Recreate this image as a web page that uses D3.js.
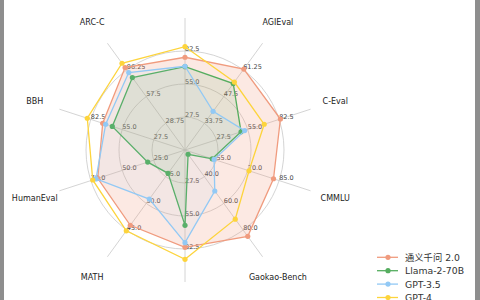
<!DOCTYPE html>
<html>
<head>
<meta charset="utf-8">
<script src="https://cdn.jsdelivr.net/npm/d3@7/dist/d3.min.js"></script>
<style>
html,body{margin:0;padding:0;background:#fff;}
svg{display:block;}
text{font-family:"DejaVu Sans","Noto Sans CJK SC",sans-serif;}
</style>
</head>
<body>
<svg id="chart" width="480" height="300"></svg>
<script>
const axesNames = ["MMLU","AGIEval","C-Eval","CMMLU","Gaokao-Bench","GSM8K","MATH","HumanEval","BBH","ARC-C"];
const axisMin = [0,20,0,40,20,0,0,0,0,0];
const axisMax = [110,75,110,100,100,110,60,100,110,115];
const axisTicks = [
  ["27.5","55.0","82.5"],
  ["33.75","47.5","61.25"],
  ["27.5","55.0","82.5"],
  ["55.0","70.0","85.0"],
  ["40.0","60.0","80.0"],
  ["27.5","55.0","82.5"],
  ["15.0","30.0","45.0"],
  ["25.0","50.0","75.0"],
  ["27.5","55.0","82.5"],
  ["28.75","57.5","86.25"]
];
const seriesNames = ["通义千问 2.0","Llama-2-70B","GPT-3.5","GPT-4"];
const qwen  = [77.3, 61.7, 83.6, 82.3, 84.7, 81.1, 42.3, 69.5, 72.1, 88.8];
const llama = [69.4, 54.2, 49.1, 53.0, 23.2, 62.8, 13.1, 29.7, 63.7, 78.0];
const gpt35 = [69.8, 39.9, 52.3, 53.9, 50.7, 77.2, 27.6, 70.9, 69.5, 83.4];
const gpt4  = [86.1, 55.0, 69.4, 70.6, 71.8, 91.1, 45.4, 73.5, 85.6, 93.4];

const seriesData = [qwen, llama, gpt35, gpt4];
const colors = ["#f09b7e","#55ad5f","#92c9f5","#fdd43c"];
const fillOp = [0.22, 0.12, 0.08, 0.0];

const svg = d3.select("#chart");
svg.append("rect").attr("width",480).attr("height",300).attr("fill","#ffffff");
svg.append("rect").attr("x",0).attr("y",0).attr("width",4).attr("height",300).attr("fill","#8e8e8e");
svg.append("rect").attr("x",475).attr("y",0).attr("width",5).attr("height",300).attr("fill","#8e8e8e");

const cx = 185, cy = 150, R = 132;
const n = axesNames.length;
const angle = i => i * 2 * Math.PI / n;
const scales = axesNames.map((_, i) => d3.scaleLinear().domain([axisMin[i], axisMax[i]]).range([0, R]));
const g = svg.append("g").attr("transform", `translate(${cx},${cy})`);

// rings
[0.25,0.5,0.75].forEach(f => {
  g.append("circle").attr("r", R*f).attr("fill","none").attr("stroke","#c9c9c9").attr("stroke-width",0.8);
});
// spokes
axesNames.forEach((_, i) => {
  const a = angle(i);
  g.append("line").attr("x1",0).attr("y1",0)
    .attr("x2", R*Math.sin(a)).attr("y2", -R*Math.cos(a))
    .attr("stroke","#c9c9c9").attr("stroke-width",0.8);
});
// tick labels
axesNames.forEach((_, i) => {
  const a = angle(i);
  axisTicks[i].forEach(t => {
    const r = scales[i](+t);
    g.append("text").attr("x", r*Math.sin(a)).attr("y", -r*Math.cos(a) - 0.5)
      .attr("font-size", 6.5).attr("fill","#444").attr("text-anchor","start")
      .text(t);
  });
});
// axis labels (the top and bottom ones fall outside the visible frame, as in the original crop)
axesNames.forEach((name, i) => {
  const a = angle(i);
  const r = 158;
  const x = r*Math.sin(a), y = -r*Math.cos(a);
  if (cy + y < 6 || cy + y > 294) return;
  g.append("text").attr("x", x).attr("y", y)
    .attr("font-size", 8).attr("fill","#222").attr("text-anchor","middle")
    .attr("dominant-baseline","central").text(name);
});

// series
const line = d3.lineRadial()
  .angle((d, i) => angle(i))
  .radius((d, i) => scales[i](d))
  .curve(d3.curveLinearClosed);

seriesData.forEach((vals, s) => {
  g.append("path").attr("d", line(vals))
    .attr("fill", colors[s]).attr("fill-opacity", fillOp[s])
    .attr("stroke", colors[s]).attr("stroke-width", 1.3);
  vals.forEach((v, i) => {
    const r = scales[i](v), a = angle(i);
    g.append("circle").attr("cx", r*Math.sin(a)).attr("cy", -r*Math.cos(a))
      .attr("r", 2.6).attr("fill", colors[s]);
  });
});

// legend
const lg = svg.append("g");
seriesNames.forEach((name, s) => {
  const y = 257.3 + s*13.4;
  lg.append("line").attr("x1",377).attr("x2",398).attr("y1",y).attr("y2",y)
    .attr("stroke",colors[s]).attr("stroke-width",1.3);
  lg.append("circle").attr("cx",388).attr("cy",y).attr("r",2.6).attr("fill",colors[s]);
  lg.append("text").attr("x",405).attr("y",y).attr("dominant-baseline","central")
    .attr("font-size",9.3).attr("fill","#333").text(name);
});
</script>
</body>
</html>
